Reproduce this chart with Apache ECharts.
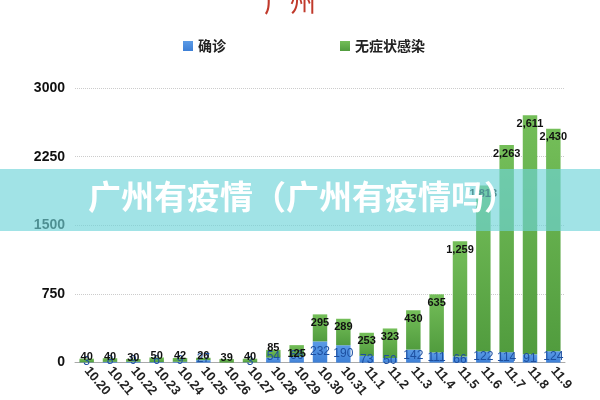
<!DOCTYPE html>
<html><head><meta charset="utf-8">
<script src="https://cdn.jsdelivr.net/npm/echarts@6/dist/echarts.min.js"></script>
<style>html,body{margin:0;padding:0;background:#fff}#c{width:600px;height:400px}</style>
</head><body><div id="c"></div>
<script>
const categories = ['10.20','10.21','10.22','10.23','10.24','10.25','10.26','10.27','10.28','10.29','10.30','10.31','11.1','11.2','11.3','11.4','11.5','11.6','11.7','11.8','11.9'];
const confirmed = [3,8,9,6,9,27,0,3,54,66,232,190,73,50,142,111,66,122,114,91,124];
const asymptomatic = [40,40,30,50,42,26,39,40,85,125,295,289,253,323,430,635,1259,1813,2263,2611,2430];
const yTicks = [0,750,1500,2250,3000];
const fmt = v => v.toLocaleString('en-US');
const chart = echarts.init(document.getElementById('c'));
const font = '"Noto Sans CJK SC", "Liberation Sans", sans-serif';
const greenData = asymptomatic.map((v,i) => (v + confirmed[i] < 150)
  ? {value:v, label:{position:'top', distance:-4}} : v);
const blueData = confirmed.map((v,i) => (v + asymptomatic[i] < 200)
  ? {value:v, label:{position:'top', distance:-5}} : v);
chart.setOption({
  animation:false,
  title:{text:'广州',left:259,top:-16,textStyle:{color:'#c0392b',fontSize:26,fontWeight:'normal',fontFamily:font}},
  legend:{top:34,left:178,itemGap:114,itemWidth:10,itemHeight:10,icon:'rect',
    textStyle:{fontSize:14,fontWeight:'bold',color:'#222',fontFamily:font},
    data:['确诊','无症状感染']},
  grid:{left:75,right:35,top:88,bottom:35},
  xAxis:{type:'category',data:categories,
    axisLine:{lineStyle:{color:'#aaa'}},axisTick:{show:false},
    axisLabel:{rotate:-50,interval:0,fontSize:13,fontWeight:'bold',color:'#222',margin:6,fontFamily:'"Liberation Sans", sans-serif'}},
  yAxis:{type:'value',min:0,max:3000,interval:750,
    axisLine:{show:false},axisTick:{show:false},
    axisLabel:{fontSize:14,fontWeight:'bold',color:'#111',margin:10,fontFamily:'"Liberation Sans", sans-serif',
      formatter:v=>yTicks.includes(v)?String(v):''},
    splitLine:{lineStyle:{color:'#ccc',type:'dotted'}}},
  series:[
    {name:'确诊',type:'bar',stack:'a',barWidth:'62%',data:blueData,
      itemStyle:{color:new echarts.graphic.LinearGradient(0,0,0,1,[{offset:0,color:'#5b9be6'},{offset:1,color:'#3d7fd6'}])},
      label:{show:true,position:'inside',color:'#1d4fa0',fontSize:12,fontFamily:'"Liberation Sans", sans-serif',
        formatter:p=>p.value>0?fmt(p.value):''}},
    {name:'无症状感染',type:'bar',stack:'a',barWidth:'62%',data:greenData,
      itemStyle:{color:new echarts.graphic.LinearGradient(0,0,0,1,[{offset:0,color:'#74be59'},{offset:1,color:'#519c3e'}])},
      label:{show:true,position:'insideTop',distance:3,color:'#111',fontSize:11,fontWeight:'bold',fontFamily:'"Liberation Sans", sans-serif',
        formatter:p=>fmt(p.value)}}
  ],
  graphic:[
    {type:'rect',left:0,top:169,z:100,shape:{width:600,height:62},style:{fill:'rgba(110,212,216,0.65)'}},
    {type:'text',left:88,top:180,z:101,style:{text:'广州有疫情（广州有疫情吗）',fill:'#fff',font:'bold 33px "Noto Sans CJK SC", sans-serif'}}
  ]
});
</script></body></html>
